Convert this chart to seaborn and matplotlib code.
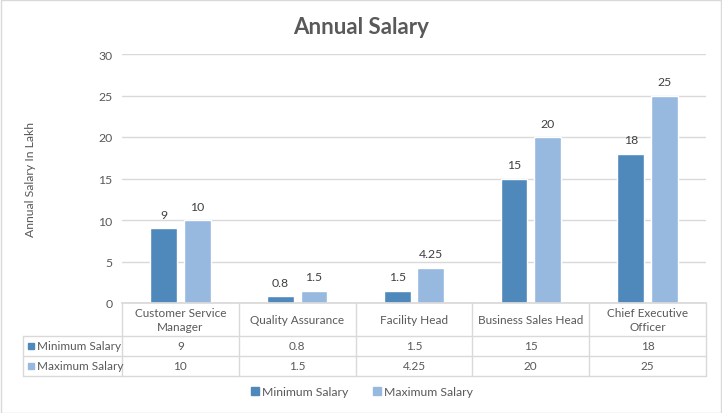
import pandas as pd
import matplotlib.pyplot as plt
import matplotlib.transforms as mtransforms
from matplotlib.lines import Line2D
from matplotlib.patches import Rectangle
import seaborn as sns

# Data
roles = ['Customer Service\nManager', 'Quality Assurance', 'Facility Head',
         'Business Sales Head', 'Chief Executive\nOfficer']
min_salary = [9, 0.8, 1.5, 15, 18]
max_salary = [10, 1.5, 4.25, 20, 25]
series_names = ['Minimum Salary', 'Maximum Salary']
y_ticks = [0, 5, 10, 15, 20, 25, 30]

colors = {'Minimum Salary': '#4F88BB', 'Maximum Salary': '#97B8DF'}
text_color = '#595959'
grid_color = '#D9D9D9'

sns.set_theme(style="white")
plt.rcParams['font.family'] = ['Lato', 'DejaVu Sans']

df = pd.DataFrame({
    'Role': roles * 2,
    'Series': [series_names[0]] * len(roles) + [series_names[1]] * len(roles),
    'Salary': min_salary + max_salary,
})

W, H = 722, 414
fig = plt.figure(figsize=(W / 100, H / 100), dpi=100)
ax = fig.add_axes([122 / W, 1 - 304 / H, (706 - 122) / W, (304 - 55) / H])

sns.barplot(data=df, x='Role', y='Salary', hue='Series', order=roles,
            hue_order=series_names, palette=colors, width=0.576, gap=0.2,
            saturation=1, ax=ax, legend=False)

for cont in ax.containers:
    ax.bar_label(cont, labels=[f'{v:g}' for v in cont.datavalues], padding=6,
                 fontsize=8.8, color='#404040')

ax.set_xlim(-0.5, len(roles) - 0.5)
ax.set_ylim(0, 30)
ax.set_yticks(y_ticks)
ax.tick_params(axis='y', labelsize=8.8, labelcolor=text_color, length=0, pad=7)
ax.set_xticks([])
ax.set_xlabel('')
ax.set_ylabel('')
ax.grid(axis='y', color=grid_color, linewidth=1)
ax.set_axisbelow(True)
for s in ['top', 'right', 'left']:
    ax.spines[s].set_visible(False)
ax.spines['bottom'].set_color(grid_color)

fig.text(30 / W, 1 - 180 / H, 'Annual Salary In Lakh', rotation=90,
         ha='center', va='center', fontsize=8.8, color=text_color)
fig.text(0.5, 1 - 27 / H, 'Annual Salary', ha='center', va='center',
         fontsize=16, fontweight='bold', color=text_color)

# Data table below the axis
def fy(y):
    return 1 - y / H

blend = mtransforms.blended_transform_factory(ax.transData, fig.transFigure)
row_lines = [304, 337, 357, 377]
for y in row_lines[1:]:
    fig.add_artist(Line2D([23 / W, 706 / W], [fy(y), fy(y)], color=grid_color, lw=1))
fig.add_artist(Line2D([23 / W, 23 / W], [fy(337), fy(377)], color=grid_color, lw=1))
fig.add_artist(Line2D([122 / W, 122 / W], [fy(304), fy(377)], color=grid_color, lw=1))
for i in range(len(roles)):
    x = i + 0.5
    fig.add_artist(Line2D([x, x], [fy(304), fy(377)], color=grid_color, lw=1,
                          transform=blend))

for i, role in enumerate(roles):
    fig.text(i, fy(320.5), role, transform=blend, ha='center', va='center',
             fontsize=8.5, color=text_color, linespacing=1.25)
    fig.text(i, fy(347), f'{min_salary[i]:g}', transform=blend, ha='center',
             va='center', fontsize=8.5, color=text_color)
    fig.text(i, fy(367), f'{max_salary[i]:g}', transform=blend, ha='center',
             va='center', fontsize=8.5, color=text_color)

for name, y in zip(series_names, [347, 367]):
    fig.add_artist(Rectangle((28 / W, fy(y) - 3 / H), 6 / W, 6 / H,
                             color=colors[name]))
    fig.text(37 / W, fy(y), name, ha='left', va='center', fontsize=8.5,
             color=text_color)

# Legend
handles = [Line2D([], [], marker='s', ls='', markersize=5.5, color=colors[n])
           for n in series_names]
fig.legend(handles, series_names, loc='center', bbox_to_anchor=(0.5, fy(393)),
           ncol=2, frameon=False, fontsize=8.8, labelcolor=text_color,
           handletextpad=0.1, columnspacing=1.8, handlelength=1)

# Chart border
fig.add_artist(Rectangle((0.5 / W, 0.5 / H), 1 - 1.5 / W, 1 - 1.5 / H,
                         fill=False, edgecolor=grid_color, lw=1,
                         transform=fig.transFigure))

fig.savefig('out.png', dpi=100)
